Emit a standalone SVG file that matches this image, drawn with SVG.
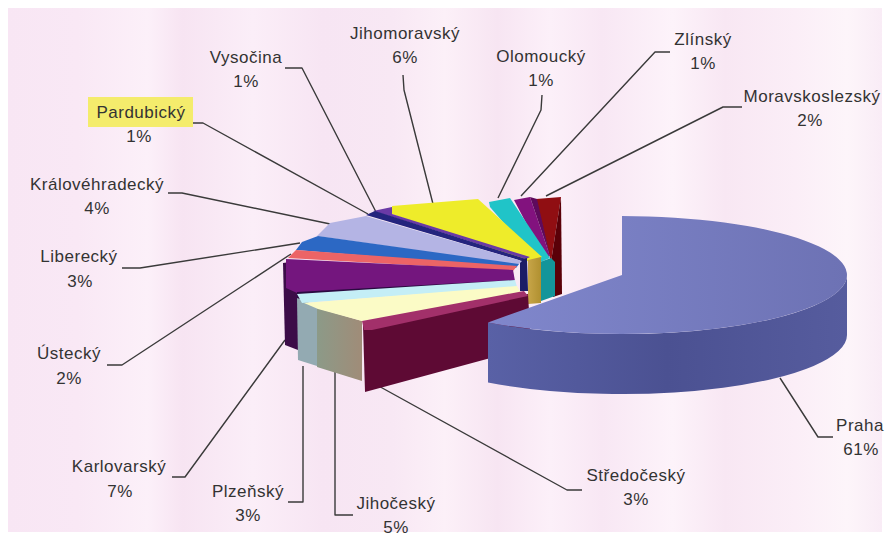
<svg xmlns="http://www.w3.org/2000/svg" width="887" height="544" viewBox="0 0 887 544">
<defs>
<linearGradient id="bg" x1="8" y1="0" x2="882" y2="0" gradientUnits="userSpaceOnUse">
<stop offset="0" stop-color="#f8e6f4"/>
<stop offset="0.08" stop-color="#f9e8f5"/>
<stop offset="0.16" stop-color="#fcf0f9"/>
<stop offset="0.2" stop-color="#f7e4f2"/>
<stop offset="0.28" stop-color="#fbeef8"/>
<stop offset="0.36" stop-color="#f7e5f3"/>
<stop offset="0.44" stop-color="#f8e8f4"/>
<stop offset="0.5" stop-color="#fcf0f8"/>
<stop offset="0.56" stop-color="#f7e5f2"/>
<stop offset="0.62" stop-color="#fcf0f9"/>
<stop offset="0.68" stop-color="#f8e7f4"/>
<stop offset="0.76" stop-color="#fdf3fa"/>
<stop offset="0.82" stop-color="#f8e7f3"/>
<stop offset="0.9" stop-color="#fbeef7"/>
<stop offset="0.96" stop-color="#fdf5fa"/>
<stop offset="1" stop-color="#f9ecf6"/>
</linearGradient>
<linearGradient id="prahaTop" x1="488" y1="0" x2="847" y2="0" gradientUnits="userSpaceOnUse">
<stop offset="0" stop-color="#8087cc"/>
<stop offset="1" stop-color="#6d72b4"/>
</linearGradient>
<linearGradient id="prahaSide" x1="488" y1="0" x2="847" y2="0" gradientUnits="userSpaceOnUse">
<stop offset="0" stop-color="#5961a6"/>
<stop offset="0.5" stop-color="#4b5192"/>
<stop offset="1" stop-color="#565c9e"/>
</linearGradient>
<linearGradient id="jcSide" x1="317" y1="0" x2="362" y2="0" gradientUnits="userSpaceOnUse">
<stop offset="0" stop-color="#8c9a88"/>
<stop offset="1" stop-color="#a08c78"/>
</linearGradient>
<linearGradient id="ochre" x1="528" y1="0" x2="541" y2="0" gradientUnits="userSpaceOnUse">
<stop offset="0" stop-color="#c7a548"/>
<stop offset="1" stop-color="#b09030"/>
</linearGradient>
</defs>
<style>
text{font-family:"Liberation Sans",Arial,sans-serif;font-size:17px;letter-spacing:0.5px;fill:#333333;text-anchor:middle}
.lead{fill:none;stroke:#3a3a3a;stroke-width:1.4;stroke-linejoin:round}
</style>
<rect x="0" y="0" width="887" height="544" fill="#ffffff"/>
<rect x="8" y="8" width="874" height="524" fill="url(#bg)"/>

<g id="connectors">
<polyline class="lead" points="285,68 302,68 376,212"/>
<polyline class="lead" points="403,75 404,90 433,204"/>
<polyline class="lead" points="542,95 541,110 498,198"/>
<polyline class="lead" points="670,52 655,52 521,196"/>
<polyline class="lead" points="742,107 723,107 546,196"/>
<polyline class="lead" points="193,123 203,123 368,214"/>
<polyline class="lead" points="168,193 182,193 335,225"/>
<polyline class="lead" points="122,268 140,268 300,243"/>
<polyline class="lead" points="107,365 122,365 291,254"/>
<polyline class="lead" points="172,477 185,477 285,340"/>
<polyline class="lead" points="288,502 303,502 303,366"/>
<polyline class="lead" points="353,515 335,515 335,372"/>
<polyline class="lead" points="582,490 567,490 375,384"/>
<polyline class="lead" points="780,378 818,437 833,437"/>
</g>

<g id="moravskoslezsky">
<polygon points="536,199 561,197 551,262" fill="#900e12"/>
<polygon points="551,262 561,197 562,294 553,297" fill="#5a0008"/>
<text x="812" y="102">Moravskoslezský</text>
<text x="810" y="126">2%</text>
</g>

<g id="zlinsky">
<polygon points="514,200 530,197 550,256 545,259" fill="#82127e"/>
<polygon points="530,197 537,199 550,256" fill="#5e0a5c"/>
<text x="703" y="45">Zlínský</text>
<text x="703" y="69">1%</text>
</g>

<g id="olomoucky">
<polygon points="489,202 510,198 550,258 538,263 490,207" fill="#20c4c8"/>
<polygon points="540,262 551,258 555,262 555,296 541,301" fill="#14959a"/>
<text x="541" y="62">Olomoucký</text>
<text x="541" y="86">1%</text>
</g>

<g id="jihomoravsky">
<polygon points="392,206 478,199 542,257 530,262 392,214" fill="#eeec2a"/>
<polygon points="528,260 541,257 541,303 528,304" fill="url(#ochre)"/>
<text x="405" y="39">Jihomoravský</text>
<text x="405" y="63">6%</text>
</g>

<g id="vysocina">
<polygon points="373,211 392,207 392,214 530,257 526,259" fill="#6a3aa6"/>
<text x="246" y="63">Vysočina</text>
<text x="246" y="87">1%</text>
</g>

<g id="pardubicky">
<polygon points="366,215 375,211 526,259 522,261" fill="#24247e"/>
<polygon points="520,260 527,258 528,291 520,291" fill="#1c1c66"/>
<rect x="88" y="97" width="105" height="30" fill="#f4ec6c"/>
<text x="141" y="118">Pardubický</text>
<text x="139" y="142">1%</text>
</g>

<g id="kralovehradecky">
<polygon points="317,236 330,223 366,216 522,261 518,265" fill="#b4b4e4"/>
<text x="97" y="190">Královéhradecký</text>
<text x="97" y="214">4%</text>
</g>

<g id="liberecky">
<polygon points="296,250 302,242 318,236 519,264 516,268" fill="#2c68c4"/>
<text x="79" y="262">Liberecký</text>
<text x="80" y="287">3%</text>
</g>

<g id="ustecky">
<polygon points="288,258 296,250 517,266 513,271" fill="#ec6466"/>
<text x="69" y="359">Ústecký</text>
<text x="69" y="384">2%</text>
</g>

<g id="karlovarsky">
<polygon points="283,263 290,262 298,293 298,350 285,345" fill="#3c0c48"/>
<polygon points="286,259 513,270 515,281 297,293 286,288" fill="#74167e"/>
<polygon points="297,292 515,280 515,286 297,299" fill="#2a0a40"/>
<text x="119" y="472">Karlovarský</text>
<text x="120" y="497">7%</text>
</g>

<g id="plzensky">
<polygon points="297,298 317,306 317,366 298,360" fill="#93aab2"/>
<polygon points="297,294 515,280 517,287 302,303" fill="#c4eef6"/>
<text x="248" y="497">Plzeňský</text>
<text x="248" y="521">3%</text>
</g>

<g id="jihocesky">
<polygon points="317,308 362,321 362,381 317,367" fill="url(#jcSide)"/>
<polygon points="304,303 517,286 521,293 362,321 318,309" fill="#fbfbc6"/>
<text x="396" y="509">Jihočeský</text>
<text x="396" y="533">5%</text>
</g>

<g id="stredocesky">
<polygon points="363,325 528,294 531,347 365,392" fill="#5e0a34"/>
<polygon points="362,321 524,291 528,296 372,330 364,330" fill="#a2306a"/>
<text x="636" y="481">Středočeský</text>
<text x="636" y="505">3%</text>
</g>

<g id="praha">
<path d="M847,275 A225,59 0 0 1 488,322.4 L488,382.4 A225,59 0 0 0 847,335 Z" fill="url(#prahaSide)"/>
<path d="M622,275 L622,216 A225,59 0 1 1 488,322.4 Z" fill="url(#prahaTop)"/>
<text x="860" y="431">Praha</text>
<text x="861" y="455">61%</text>
</g>
</svg>
